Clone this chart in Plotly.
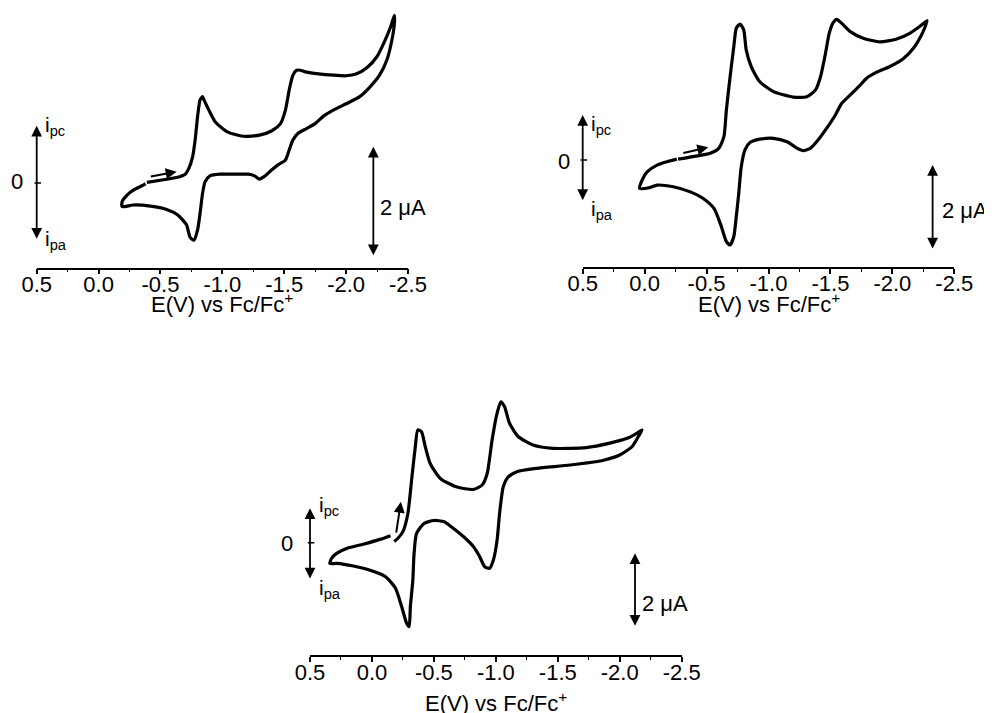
import plotly.graph_objects as go

W, H = 992, 713
PAGE_MARGIN = 8  # default <body> margin of the html page offsets the figure
FONT = "Liberation Sans, Arial, sans-serif"

# ---------------- data (E in V vs Fc/Fc+, I in uA, cathodic positive) ----------------
E1 = [-0.39, -0.50, -0.63, -0.70, -0.73, -0.76, -0.78, -0.80, -0.82, -0.84, -0.85, -0.89, -0.94,
      -1.04, -1.17, -1.30, -1.40, -1.47, -1.51, -1.54, -1.57, -1.60, -1.63, -1.67, -1.76, -1.90,
      -2.00, -2.08, -2.17, -2.25, -2.31, -2.36, -2.39,
      -2.39, -2.37, -2.33, -2.27, -2.19, -2.11, -2.00, -1.90, -1.82, -1.75, -1.68, -1.61, -1.57,
      -1.54, -1.51, -1.45, -1.40, -1.34, -1.30, -1.26, -1.21, -1.09, -0.98, -0.90, -0.86, -0.84,
      -0.82, -0.80, -0.77, -0.74, -0.71, -0.64, -0.55, -0.42, -0.28, -0.19, -0.19, -0.23, -0.28,
      -0.35, -0.38]
I1 = [0.01, 0.05, 0.10, 0.16, 0.27, 0.48, 0.78, 1.21, 1.51, 1.57, 1.52, 1.33, 1.12,
      0.93, 0.85, 0.87, 0.95, 1.08, 1.33, 1.69, 1.96, 2.05, 2.05, 2.02, 1.99, 1.96,
      1.95, 1.98, 2.10, 2.30, 2.57, 2.84, 3.05,
      2.90, 2.60, 2.24, 1.96, 1.74, 1.57, 1.44, 1.33, 1.22, 1.08, 0.99, 0.90, 0.78,
      0.60, 0.42, 0.33, 0.24, 0.12, 0.07, 0.13, 0.16, 0.16, 0.16, 0.13, 0.02, -0.19,
      -0.55, -0.85, -1.04, -0.99, -0.76, -0.58, -0.48, -0.42, -0.40, -0.43, -0.34, -0.22, -0.13,
      -0.05, -0.01]

E2 = [-0.27, -0.39, -0.53, -0.60, -0.64, -0.66, -0.69, -0.72, -0.74, -0.77, -0.80, -0.82, -0.86,
      -0.93, -1.04, -1.20, -1.31, -1.38, -1.42, -1.46, -1.49, -1.52, -1.55, -1.59, -1.66, -1.77,
      -1.90, -2.03, -2.14, -2.22, -2.28,
      -2.26, -2.22, -2.17, -2.09, -1.98, -1.87, -1.79, -1.73, -1.66, -1.59, -1.54, -1.47, -1.40,
      -1.34, -1.28, -1.23, -1.15, -1.04, -0.93, -0.85, -0.81, -0.78, -0.76, -0.74, -0.72, -0.69,
      -0.66, -0.62, -0.56, -0.47, -0.37, -0.23, -0.10, -0.04, 0.04, 0.02, -0.02, -0.10, -0.18,
      -0.26]
I2 = [0.02, 0.08, 0.16, 0.28, 0.55, 1.18, 1.96, 2.67, 3.10, 3.20, 3.06, 2.59, 2.20,
      1.84, 1.61, 1.48, 1.49, 1.65, 1.96, 2.51, 2.98, 3.22, 3.31, 3.22, 3.02, 2.86,
      2.78, 2.84, 2.98, 3.14, 3.28,
      3.10, 2.86, 2.63, 2.39, 2.20, 2.06, 1.92, 1.73, 1.53, 1.33, 1.06, 0.75, 0.47,
      0.28, 0.22, 0.28, 0.43, 0.51, 0.49, 0.41, 0.24, -0.16, -0.78, -1.33, -1.80, -2.00,
      -1.92, -1.57, -1.14, -0.90, -0.75, -0.63, -0.59, -0.65, -0.67, -0.47, -0.28, -0.12, -0.04,
      0.02]

E3 = [-0.18, -0.21, -0.25, -0.29, -0.32, -0.35, -0.37, -0.40, -0.43, -0.47, -0.55, -0.68, -0.82,
      -0.89, -0.93, -0.97, -1.01, -1.04, -1.07, -1.11, -1.18, -1.30, -1.46, -1.73, -1.92, -2.06,
      -2.14, -2.18,
      -2.15, -2.10, -2.00, -1.87, -1.60, -1.33, -1.17, -1.10, -1.06, -1.03, -1.01, -0.98, -0.95,
      -0.91, -0.87, -0.82, -0.74, -0.64, -0.58, -0.50, -0.42, -0.36, -0.34, -0.33, -0.31, -0.30,
      -0.28, -0.24, -0.19, -0.11, 0.02, 0.15, 0.285, 0.34, 0.325, 0.285, 0.20, 0.07, -0.065,
      -0.15]
I3 = [0.03, 0.12, 0.30, 0.79, 1.69, 2.60, 3.05, 3.00, 2.60, 2.14, 1.74, 1.51, 1.44,
      1.56, 1.87, 2.78, 3.50, 3.81, 3.68, 3.23, 2.87, 2.64, 2.55, 2.57, 2.69, 2.82,
      2.96, 3.05,
      2.87, 2.60, 2.37, 2.23, 2.10, 2.01, 1.92, 1.78, 1.51, 0.79, 0.07, -0.47, -0.69,
      -0.65, -0.38, -0.11, 0.16, 0.43, 0.57, 0.60, 0.52, 0.25, -0.29, -1.01, -1.73, -2.27,
      -2.18, -1.73, -1.23, -0.92, -0.74, -0.63, -0.56, -0.56, -0.42, -0.29, -0.15, -0.04, 0.09,
      0.19]

TICK_VALS = [0.5, 0.0, -0.5, -1.0, -1.5, -2.0, -2.5]
TICK_TEXT = ["0.5", "0.0", "-0.5", "-1.0", "-1.5", "-2.0", "-2.5"]
X_TITLE = "E(V) vs Fc/Fc<sup>+</sup>"
SCALE_TEXT = "2 \u03bcA"

# ---------------- layout geometry (screen pixels) ----------------
panels = [
    dict(E=E1, I=I1, xpx=(36.7, 408.0), ypx=(8, 267.5), zero=183.0, ppu=55.0, title_py=303, lab_off=-9,
         lr=(-1.04, 1.04), zlab=(0.594, 0.03), ipc=(0.449, 1.04), ipa=(0.449, -1.04),
         bar=(-2.22, -1.34, 0.66), barlab=(-2.257, -0.44), dirarr=(-0.41, 0.115, -0.631, 0.206)),
    dict(E=E2, I=I2, xpx=(582.7, 954.3), ypx=(8, 267.0), zero=160.0, ppu=42.5, title_py=303, lab_off=-9,
         lr=(-0.98, 1.06), zlab=(0.589, -0.03), ipc=(0.447, 0.82), ipa=(0.447, -1.18),
         bar=(-2.325, -2.118, -0.118), barlab=(-2.384, -1.18), dirarr=(-0.30, 0.157, -0.514, 0.298)),
    dict(E=E3, I=I3, xpx=(310.0, 681.7), ypx=(370, 655.0), zero=542.7, ppu=37.0, title_py=702, lab_off=-8,
         lr=(-1.01, 0.93), zlab=(0.621, -0.02), ipc=(0.446, 0.99), ipa=(0.446, -1.25),
         bar=(-2.123, -2.286, -0.286), barlab=(-2.163, -1.64), dirarr=(-0.194, 0.234, -0.234, 1.108)),
]


def sx(px):
    return (px - PAGE_MARGIN) / W


def sy(py):
    return 1 - (py - PAGE_MARGIN) / H


def to_px(p, e, i):
    """Decoration position (panel data units) -> screen pixel position."""
    px = p["xpx"][0] + (0.5 - e) / 3.0 * (p["xpx"][1] - p["xpx"][0])
    py = p["zero"] - i * p["ppu"]
    return px, py


fig = go.Figure()
annotations = []
layout_axes = {}

for k, p in enumerate(panels, start=1):
    xs = "" if k == 1 else str(k)
    xname, yname = "x" + xs, "y" + xs
    fig.add_trace(go.Scatter(x=p["E"], y=p["I"], mode="lines", xaxis=xname, yaxis=yname,
                             line=dict(color="black", width=3.2, shape="spline", smoothing=0.6),
                             showlegend=False, hoverinfo="skip"))
    y_bot = (p["zero"] - p["ypx"][1]) / p["ppu"]
    y_top = (p["zero"] - p["ypx"][0]) / p["ppu"]
    layout_axes["xaxis" + xs] = dict(
        domain=[sx(p["xpx"][0]), sx(p["xpx"][1])], range=[0.5, -2.5], anchor=yname,
        showgrid=False, zeroline=False, showline=True, linecolor="black", linewidth=1.8,
        ticks="outside", ticklen=5, tickwidth=1.5, tickcolor="black",
        tickvals=TICK_VALS, ticktext=TICK_TEXT, automargin=False,
        ticklabelstandoff=p["lab_off"],
        tickfont=dict(family=FONT, size=22, color="black"),
        minor=dict(dtick=0.25, tick0=0.0, ticks="outside", ticklen=3, tickwidth=1.3, tickcolor="black"),
        fixedrange=True)
    layout_axes["yaxis" + xs] = dict(
        domain=[sy(p["ypx"][1]), sy(p["ypx"][0])], range=[y_bot, y_top], anchor=xname,
        showline=False, showticklabels=False, ticks="", showgrid=False, zeroline=False,
        automargin=False, fixedrange=True)

    def arrow(e_head, i_head, e_tail, i_tail, both=False, head=2, width=1.8, size=1.2):
        hx, hy = to_px(p, e_head, i_head)
        tx, ty = to_px(p, e_tail, i_tail)
        a = dict(xref="paper", yref="paper", axref="pixel", ayref="pixel",
                 x=sx(hx), y=sy(hy), ax=tx - hx, ay=ty - hy, text="", showarrow=True,
                 arrowcolor="black", arrowhead=head, arrowsize=size, arrowwidth=width,
                 standoff=0, startstandoff=0)
        if both:
            a.update(arrowside="end+start", startarrowhead=head, startarrowsize=size)
        return a

    def label(e, i, text, anchor="left", size=22):
        x, y = to_px(p, e, i)
        return dict(xref="paper", yref="paper", x=sx(x), y=sy(y), text=text, showarrow=False,
                    xanchor=anchor, yanchor="middle", font=dict(family=FONT, size=size, color="black"))

    annotations.append(arrow(0.5, p["lr"][1], 0.5, p["lr"][0], both=True))
    annotations.append(arrow(0.465, 0, 0.53, 0, head=0, width=1.6))
    annotations.append(label(p["zlab"][0], p["zlab"][1], "0", anchor="right"))
    annotations.append(label(p["ipc"][0], p["ipc"][1], "i<sub>pc</sub>", size=21))
    annotations.append(label(p["ipa"][0], p["ipa"][1], "i<sub>pa</sub>", size=21))
    annotations.append(arrow(p["bar"][0], p["bar"][2], p["bar"][0], p["bar"][1], both=True))
    annotations.append(label(p["barlab"][0], p["barlab"][1], SCALE_TEXT))
    d = p["dirarr"]
    annotations.append(arrow(d[2], d[3], d[0], d[1], size=1.1, width=2.0))
    annotations.append(dict(xref="paper", yref="paper",
                            x=sx((p["xpx"][0] + p["xpx"][1]) / 2), y=sy(p["title_py"]),
                            text=X_TITLE, showarrow=False, xanchor="center", yanchor="middle",
                            font=dict(family=FONT, size=22, color="black")))

fig.update_layout(width=W, height=H, margin=dict(l=0, r=0, t=0, b=0, autoexpand=False),
                  paper_bgcolor="white", plot_bgcolor="white",
                  annotations=annotations, **layout_axes)

fig.write_html("out.html")
